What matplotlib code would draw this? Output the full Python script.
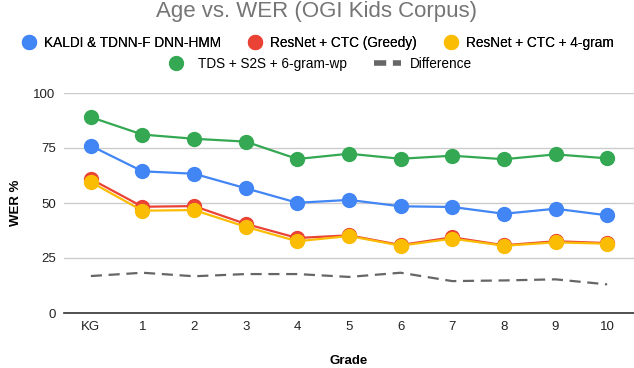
import matplotlib.pyplot as plt
from matplotlib.lines import Line2D

plt.rcParams['font.family'] = ['Liberation Sans', 'DejaVu Sans']

grades = ['KG', '1', '2', '3', '4', '5', '6', '7', '8', '9', '10']
kaldi = [76.0, 64.4, 63.3, 56.7, 50.1, 51.4, 48.5, 48.2, 45.1, 47.4, 44.4]
resnet_greedy = [60.9, 48.3, 48.6, 40.5, 34.1, 35.3, 30.9, 34.4, 30.8, 32.6, 31.8]
resnet_4gram = [59.5, 46.5, 46.8, 39.2, 32.6, 35.0, 30.6, 33.8, 30.6, 32.1, 31.5]
tds_s2s = [89.0, 81.1, 79.2, 77.9, 70.0, 72.4, 70.1, 71.5, 69.9, 72.1, 70.3]
difference = [16.8, 18.3, 16.7, 17.7, 17.7, 16.4, 18.3, 14.5, 14.8, 15.3, 13.0]

fig = plt.figure(figsize=(6.34, 3.68), dpi=100)
ax = fig.add_axes([64 / 634, 1 - 313 / 368, 570 / 634, 220 / 368])

x = list(range(len(grades)))
series = [
    ('KALDI & TDNN-F DNN-HMM', kaldi, '#4285F4'),
    ('ResNet + CTC (Greedy)', resnet_greedy, '#EA4335'),
    ('ResNet + CTC + 4-gram', resnet_4gram, '#FBBC04'),
    ('TDS + S2S + 6-gram-wp', tds_s2s, '#34A853'),
]
for label, vals, color in series:
    ax.plot(x, vals, color=color, linewidth=1.6, marker='o', markersize=10,
            label=label, zorder=3)
ax.plot(x, difference, color='#666666', linewidth=1.6, linestyle=(0, (5, 3)),
        label='Difference', zorder=3)

ax.set_xlim(-0.52, 10.52)
ax.set_ylim(0, 100)
ax.set_xticks(x)
ax.set_xticklabels(grades)
ax.set_yticks([0, 25, 50, 75, 100])
ax.grid(axis='y', color='#cccccc', linewidth=1)
ax.set_axisbelow(True)
for s in ['top', 'right', 'left']:
    ax.spines[s].set_visible(False)
ax.spines['bottom'].set_color('#333333')
ax.spines['bottom'].set_linewidth(1.2)
ax.tick_params(length=0, labelsize=9.5, colors='#222222', pad=6)
ax.set_ylabel('WER %', fontweight='bold', fontsize=9.5, labelpad=8)

fig.text(349 / 634, 1 - 361 / 368, 'Grade', ha='center', va='center',
         fontweight='bold', fontsize=9.5)
fig.text(0.5, 1 - 11 / 368, 'Age vs. WER (OGI Kids Corpus)', ha='center', va='center',
         fontsize=16, color='#757575')

def handle(color, dashed=False):
    if dashed:
        return Line2D([], [], color='#666666', linewidth=4, linestyle=(0, (2.2, 1.2)))
    return Line2D([], [], color=color, marker='o', markersize=10, linestyle='none')

row1 = [handle(c) for _, _, c in series[:3]]
leg1 = fig.legend(row1, [s[0] for s in series[:3]], loc='center',
                  bbox_to_anchor=(0.5, 1 - 43 / 368), ncol=3, frameon=False,
                  fontsize=9.8, handletextpad=0.5, columnspacing=1.9, handlelength=1.2)
row2 = [handle(series[3][2]), handle(None, dashed=True)]
leg2 = fig.legend(row2, [series[3][0], 'Difference'], loc='center',
                  bbox_to_anchor=(0.5, 1 - 64 / 368), ncol=2, frameon=False,
                  fontsize=9.8, handletextpad=0.6, columnspacing=2.0, handlelength=2.0)
fig.add_artist(leg1)

fig.savefig('out.png', dpi=100)
